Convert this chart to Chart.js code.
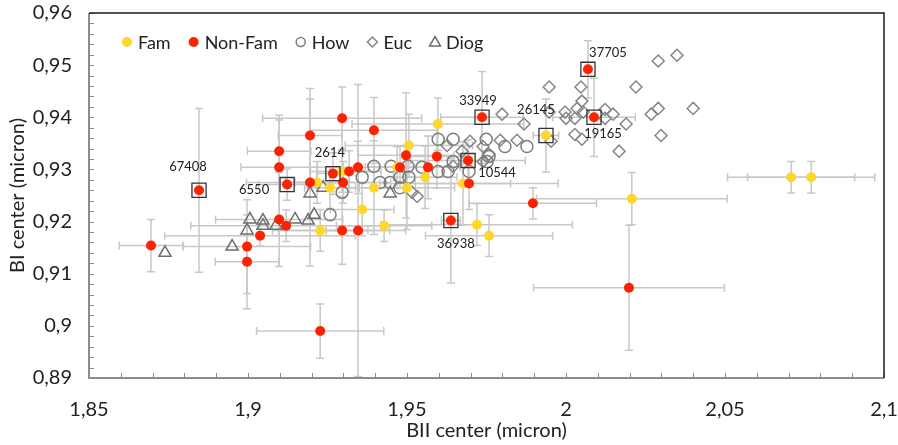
<!DOCTYPE html>
<html>
<head>
<meta charset="utf-8">
<script src="https://cdn.jsdelivr.net/npm/chart.js@4.4.1/dist/chart.umd.min.js"></script>
<style>
  html, body { margin: 0; padding: 0; background: #fff; }
</style>
</head>
<body>
<canvas id="bandChart" width="898" height="445"></canvas>
<script>
// --- data (BII center vs BI center, micron) ---
const famX    = [1.9217, 1.9258, 1.9296, 1.9227, 1.9359, 1.9396, 1.9428, 1.9506, 1.9500, 1.9557, 1.9469, 1.9597, 1.9676, 1.9720, 1.9758, 1.9937, 2.0207, 2.0708, 2.0771];
const famY    = [0.9275, 0.9265, 0.9296, 0.9183, 0.9223, 0.9265, 0.9192, 0.9346, 0.9265, 0.9285, 0.9304, 0.9387, 0.9273, 0.9194, 0.9173, 0.9365, 0.9244, 0.9285, 0.9285];
const famXErr = [0.01, 0.008, 0.01, 0.015, 0.01, 0.01, 0.015, 0.02, 0.015, 0.01, 0.01, 0.027, 0.015, 0.03, 0.02, 0.004, 0.03, 0.02, 0.02];
const famYErr = [0.004, 0.004, 0.004, 0.004, 0.005, 0.009, 0.003, 0.006, 0.008, 0.006, 0.004, 0.005, 0.008, 0.004, 0.004, 0.007, 0.005, 0.003, 0.003];

const nonFamX    = [1.8695, 1.8846, 1.8997, 1.8997, 1.9038, 1.9098, 1.9098, 1.9098, 1.9120, 1.9123, 1.9195, 1.9195, 1.9267, 1.9296, 1.9318, 1.9299, 1.9296, 1.9346, 1.9396, 1.9346, 1.9227, 1.9497, 1.9478, 1.9566, 1.9594, 1.9736, 1.9692, 1.9695, 1.9896, 1.9638, 2.0069, 2.0088, 2.0198];
const nonFamY    = [0.9154, 0.9260, 0.9152, 0.9123, 0.9173, 0.9335, 0.9304, 0.9204, 0.9192, 0.9271, 0.9365, 0.9275, 0.9292, 0.9398, 0.9296, 0.9275, 0.9183, 0.9304, 0.9375, 0.9183, 0.8990, 0.9327, 0.9304, 0.9304, 0.9325, 0.9400, 0.9317, 0.9273, 0.9235, 0.9202, 0.9492, 0.9400, 0.9073];
const nonFamXErr = [0.01, 0, 0.02, 0.01, 0.03, 0.01, 0.012, 0.02, 0.03, 0.009, 0.01, 0.02, 0.005, 0.025, 0.01, 0.015, 0.02, 0.015, 0.02, 0.01, 0.02, 0.015, 0.01, 0.01, 0.01, 0.013, 0.018, 0.028, 0.02, 0.003, 0, 0.013, 0.03];
const nonFamYErr = [0.005, 0.0157, 0.009, 0.009, 0.002, 0.006, 0.01, 0.009, 0.003, 0.003, 0.009, 0.016, 0.004, 0.006, 0.004, 0.004, 0.0065, 0.005, 0.0063, 0.028, 0.0052, 0.012, 0.004, 0.006, 0.006, 0.0088, 0.004, 0.005, 0.003, 0.012, 0.0055, 0.0075, 0.012];

const howX = [1.9258, 1.9296, 1.9359, 1.9396, 1.9415, 1.9450, 1.9447, 1.9478, 1.9506, 1.9478, 1.9503, 1.9547, 1.9598, 1.9598, 1.9629, 1.9645, 1.9645, 1.9695, 1.9749, 1.9758, 1.9752, 1.9808, 1.9877];
const howY = [0.9213, 0.9256, 0.9285, 0.9306, 0.9275, 0.9306, 0.9275, 0.9285, 0.9285, 0.9265, 0.9306, 0.9304, 0.9358, 0.9296, 0.9296, 0.9358, 0.9315, 0.9296, 0.9358, 0.9325, 0.9315, 0.9344, 0.9344];

const eucX = [1.9516, 1.9532, 1.9626, 1.9673, 1.9698, 1.9645, 1.9739, 1.9739, 1.9758, 1.9793, 1.9799, 1.9846, 1.9868, 1.9947, 1.9947, 1.9953, 1.9997, 2.0000, 2.0028, 2.0035, 2.0047, 2.0050, 2.0054, 2.0028, 2.0050, 2.0123, 2.0123, 2.0148, 2.0167, 2.0189, 2.0220, 2.0268, 2.0290, 2.0299, 2.0290, 2.0349, 2.0400];
const eucY = [0.9256, 0.9248, 0.9346, 0.9335, 0.9354, 0.9306, 0.9344, 0.9315, 0.9329, 0.9356, 0.9406, 0.9356, 0.9387, 0.9458, 0.9410, 0.9354, 0.9410, 0.9398, 0.9398, 0.9417, 0.9458, 0.9431, 0.9410, 0.9367, 0.9358, 0.9415, 0.9398, 0.9406, 0.9335, 0.9387, 0.9458, 0.9406, 0.9417, 0.9365, 0.9508, 0.9519, 0.9417];

const diogX = [1.8739, 1.8950, 1.8997, 1.9006, 1.9047, 1.9047, 1.9088, 1.9148, 1.9189, 1.9208, 1.9195, 1.9236, 1.9447];
const diogY = [0.9140, 0.9152, 0.9183, 0.9204, 0.9202, 0.9192, 0.9192, 0.9204, 0.9202, 0.9213, 0.9254, 0.9265, 0.9254];

// highlighted meteorites (boxed)
const boxNames = ['67408', '6550', '2614', '33949', '26145', '37705', '19165', '10544', '36938'];
const boxX = [1.8846, 1.9123, 1.9267, 1.9736, 1.9937, 2.0069, 2.0088, 1.9692, 1.9638];
const boxY = [0.9260, 0.9271, 0.9292, 0.9400, 0.9365, 0.9492, 0.9400, 0.9317, 0.9202];

const xTickValues = [1.85, 1.9, 1.95, 2, 2.05, 2.1];
const xTickLabels = ['1,85', '1,9', '1,95', '2', '2,05', '2,1'];
const yTickValues = [0.89, 0.9, 0.91, 0.92, 0.93, 0.94, 0.95, 0.96];
const yTickLabels = ['0,89', '0,9', '0,91', '0,92', '0,93', '0,94', '0,95', '0,96'];

// label placement next to the boxes, in pixels
const labelOffsets = [[-11, -23], [-33, 5], [-3, -21], [-4, -16], [-10, -26], [20, -17], [9, 17], [29, 12], [5, 23]];

const FONT = 'Lato, "Open Sans", sans-serif';
const zip = (xs, ys) => xs.map((v, i) => ({ x: v, y: ys[i] }));

// plot frame taken from the scales themselves
function frameOf(chart) {
    const { x, y } = chart.scales;
    return {
        left: x.getPixelForValue(x.min), right: x.getPixelForValue(x.max),
        top: y.getPixelForValue(y.max), bottom: y.getPixelForValue(y.min)
    };
}

const errorBars = {
    id: 'errorBars',
    beforeDatasetsDraw(chart) {
        const { ctx, scales: { x, y } } = chart;
        const a = frameOf(chart);
        ctx.save();
        ctx.beginPath();
        ctx.rect(a.left, a.top, a.right - a.left, a.bottom - a.top);
        ctx.clip();
        ctx.strokeStyle = '#c8c8c8';
        ctx.lineWidth = 1.5;
        const cap = 4;
        chart.data.datasets.forEach(ds => {
            if (!ds.xErr) return;
            ds.data.forEach((p, i) => {
                const px = x.getPixelForValue(p.x);
                const py = y.getPixelForValue(p.y);
                const ex = ds.xErr[i], ey = ds.yErr[i];
                ctx.beginPath();
                if (ex) {
                    const l = x.getPixelForValue(p.x - ex), r = x.getPixelForValue(p.x + ex);
                    ctx.moveTo(l, py); ctx.lineTo(r, py);
                    ctx.moveTo(l, py - cap); ctx.lineTo(l, py + cap);
                    ctx.moveTo(r, py - cap); ctx.lineTo(r, py + cap);
                }
                if (ey) {
                    const t = y.getPixelForValue(p.y + ey), b = y.getPixelForValue(p.y - ey);
                    ctx.moveTo(px, t); ctx.lineTo(px, b);
                    ctx.moveTo(px - cap, t); ctx.lineTo(px + cap, t);
                    ctx.moveTo(px - cap, b); ctx.lineTo(px + cap, b);
                }
                ctx.stroke();
            });
        });
        ctx.restore();
    }
};

const frameAndLabels = {
    id: 'frameAndLabels',
    afterDraw(chart) {
        const { ctx, scales: { x, y } } = chart;
        const a = frameOf(chart);
        ctx.save();
        // inward tick marks
        ctx.strokeStyle = '#8a8a8a';
        ctx.lineWidth = 1;
        ctx.beginPath();
        for (let k = 0; k <= 25; k++) {
            const px = Math.round(x.getPixelForValue(1.85 + k * 0.01)) + 0.5;
            ctx.moveTo(px, a.bottom); ctx.lineTo(px, a.bottom - 5);
        }
        for (let k = 0; k <= 35; k++) {
            const py = Math.round(y.getPixelForValue(0.89 + k * 0.002)) + 0.5;
            ctx.moveTo(a.left, py); ctx.lineTo(a.left + 5, py);
        }
        ctx.stroke();
        // frame: grey left/bottom, dark top/right
        ctx.strokeStyle = '#8c8c8c';
        ctx.lineWidth = 2;
        ctx.beginPath();
        ctx.moveTo(a.left, a.top); ctx.lineTo(a.left, a.bottom); ctx.lineTo(a.right, a.bottom);
        ctx.stroke();
        ctx.strokeStyle = '#1a1a1a';
        ctx.lineWidth = 1.5;
        ctx.beginPath();
        ctx.moveTo(a.left, a.top); ctx.lineTo(a.right, a.top); ctx.lineTo(a.right, a.bottom);
        ctx.stroke();

        // labels of the boxed points
        ctx.fillStyle = '#222';
        ctx.font = '13px ' + FONT;
        ctx.textAlign = 'center';
        ctx.textBaseline = 'middle';
        boxNames.forEach((name, i) => {
            const px = x.getPixelForValue(boxX[i]);
            const py = y.getPixelForValue(boxY[i]);
            ctx.fillText(name, px + labelOffsets[i][0], py + labelOffsets[i][1]);
        });

        // legend inside the plot area
        const items = chart.data.datasets.filter(d => d.inLegend);
        let lx = a.left + 38;
        const ly = a.top + 29;
        ctx.font = '18px ' + FONT;
        ctx.textAlign = 'left';
        items.forEach(d => {
            ctx.beginPath();
            ctx.lineWidth = 1.5;
            ctx.strokeStyle = d.borderColor;
            ctx.fillStyle = d.backgroundColor;
            if (d.pointStyle === 'circle') {
                ctx.arc(lx, ly, d.filled ? 5 : 4.5, 0, Math.PI * 2);
            } else if (d.pointStyle === 'rectRot') {
                ctx.moveTo(lx, ly - 5); ctx.lineTo(lx + 5, ly); ctx.lineTo(lx, ly + 5); ctx.lineTo(lx - 5, ly); ctx.closePath();
            } else {
                ctx.moveTo(lx, ly - 5.5); ctx.lineTo(lx + 5.5, ly + 4); ctx.lineTo(lx - 5.5, ly + 4); ctx.closePath();
            }
            if (d.filled) ctx.fill(); else ctx.stroke();
            ctx.fillStyle = '#222';
            ctx.fillText(d.label, lx + 11, ly + 1);
            lx += 11 + ctx.measureText(d.label).width + 23;
        });
        ctx.restore();
    }
};

const ctx = document.getElementById('bandChart').getContext('2d');
new Chart(ctx, {
    type: 'scatter',
    data: {
        datasets: [
            { label: 'Fam', data: zip(famX, famY), xErr: famXErr, yErr: famYErr, inLegend: true, filled: true,
              pointStyle: 'circle', pointRadius: 5, backgroundColor: '#FFD62A', borderColor: '#FFD62A', borderWidth: 0, order: 2 },
            { label: 'Non-Fam', data: zip(nonFamX, nonFamY), xErr: nonFamXErr, yErr: nonFamYErr, inLegend: true, filled: true,
              pointStyle: 'circle', pointRadius: 5, backgroundColor: '#FF2200', borderColor: '#FF2200', borderWidth: 0, order: 1 },
            { label: 'How', data: zip(howX, howY), inLegend: true,
              pointStyle: 'circle', pointRadius: 6, backgroundColor: 'rgba(255,255,255,0)', borderColor: '#7c7c7c', borderWidth: 1.5, order: 3 },
            { label: 'Euc', data: zip(eucX, eucY), inLegend: true,
              pointStyle: 'rectRot', pointRadius: 6, backgroundColor: 'rgba(255,255,255,0)', borderColor: '#858585', borderWidth: 1.5, order: 4 },
            { label: 'Diog', data: zip(diogX, diogY), inLegend: true,
              pointStyle: 'triangle', pointRadius: 7, backgroundColor: 'rgba(255,255,255,0)', borderColor: '#6e6e6e', borderWidth: 1.5, order: 5 },
            { label: 'boxes', data: zip(boxX, boxY),
              pointStyle: 'rect', pointRadius: 10, backgroundColor: 'rgba(255,255,255,0)', borderColor: '#333', borderWidth: 1.3, order: 0 }
        ]
    },
    options: {
        responsive: false,
        animation: false,
        devicePixelRatio: 1,
        layout: { padding: { top: 13, right: 14, left: 0, bottom: 0 } },
        plugins: { legend: { display: false }, tooltip: { enabled: false } },
        scales: {
            x: {
                type: 'linear', min: 1.85, max: 2.1,
                grid: { display: false }, border: { display: false },
                afterBuildTicks: s => { s.ticks = xTickValues.map(v => ({ value: v })); },
                afterFit: s => { s.height = 67; s.paddingLeft = 0; s.paddingRight = 0; },
                ticks: { callback: (v, i) => xTickLabels[i], color: '#222', padding: 12, maxRotation: 0,
                         font: { family: FONT, size: 20 } },
                title: { display: true, text: 'BII center (micron)', color: '#222', padding: { top: 0, bottom: 2 },
                         font: { family: FONT, size: 20 } }
            },
            y: {
                type: 'linear', min: 0.89, max: 0.96,
                grid: { display: false }, border: { display: false },
                afterBuildTicks: s => { s.ticks = yTickValues.map(v => ({ value: v })); },
                afterFit: s => { s.width = 89; s.paddingTop = 0; s.paddingBottom = 0; },
                ticks: { callback: (v, i) => yTickLabels[i], color: '#222', padding: 9,
                         font: { family: FONT, size: 20 } },
                title: { display: true, text: 'BI center (micron)', color: '#222', padding: { top: 6, bottom: 0 },
                         font: { family: FONT, size: 20 } }
            }
        }
    },
    plugins: [errorBars, frameAndLabels]
});
</script>
</body>
</html>
